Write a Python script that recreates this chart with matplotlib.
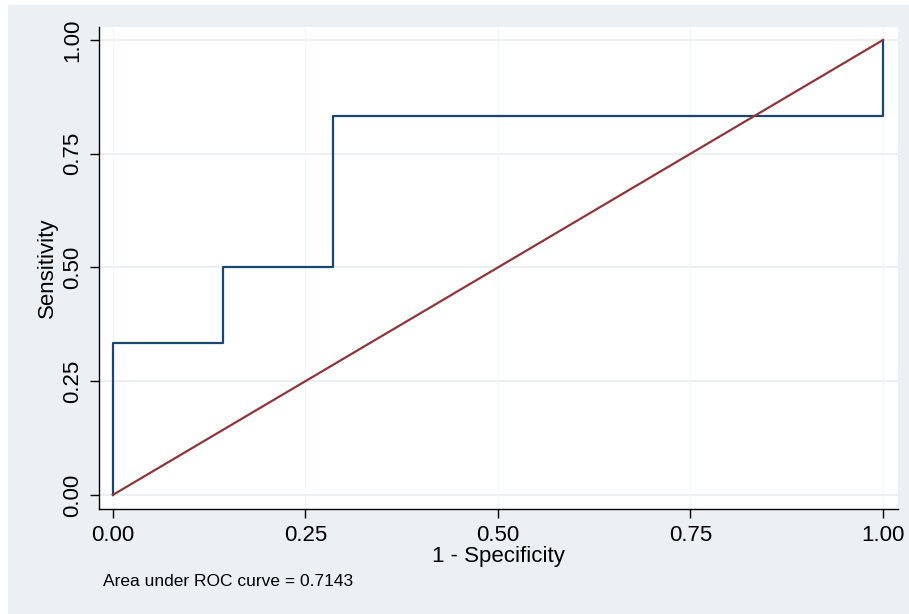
import matplotlib
matplotlib.use("Agg")
import matplotlib.pyplot as plt
from matplotlib.patches import Rectangle

# Data
roc_fpr = [0.0, 0.0, 0.142857, 0.142857, 0.285714, 0.285714, 1.0, 1.0]
roc_tpr = [0.0, 0.333333, 0.333333, 0.5, 0.5, 0.833333, 0.833333, 1.0]
ref_x = [0.0, 1.0]
ref_y = [0.0, 1.0]
ticks = [0.0, 0.25, 0.5, 0.75, 1.0]
tick_labels = ["0.00", "0.25", "0.50", "0.75", "1.00"]
auc_text = "Area under ROC curve = 0.7143"

plt.rcParams['font.family'] = ['Liberation Sans', 'DejaVu Sans']

W, H = 909, 614
fig = plt.figure(figsize=(W / 100, H / 100), dpi=100, facecolor='white')
fig.patches.append(Rectangle((8 / W, 0), 1 - 8 / W, 1 - 5 / H, transform=fig.transFigure,
                             facecolor='#EAF0F3', edgecolor='none', zorder=-10))

left, right, top, bottom = 99, 898, 27, 509
ax = fig.add_axes([left / W, 1 - bottom / H, (right - left) / W, (bottom - top) / H])
ax.set_facecolor('white')

ax.plot(roc_fpr, roc_tpr, color='#1A476F', lw=1.6, zorder=3)
ax.plot(ref_x, ref_y, color='#90353B', lw=1.6, zorder=4)

ax.set_xlim(-0.018, 1.0195)
ax.set_ylim(-0.031, 1.0286)
ax.set_xticks(ticks)
ax.set_xticklabels(tick_labels)
ax.set_yticks(ticks)
ax.set_yticklabels(tick_labels, rotation=90, va='center')
ax.tick_params(axis='both', direction='out', length=6.5, width=1, labelsize=16, colors='black')
ax.tick_params(axis='x', pad=5)
ax.tick_params(axis='y', pad=5)

ax.yaxis.grid(True, color='#EAEFF1', lw=1.3, zorder=0)
ax.xaxis.grid(True, color='#F4F6F7', lw=1.0, zorder=0)
ax.set_axisbelow(True)
for s in ['top', 'right']:
    ax.spines[s].set_visible(False)
for s in ['left', 'bottom']:
    ax.spines[s].set_color('black')
    ax.spines[s].set_linewidth(1)

ax.set_xlabel('1 - Specificity', fontsize=16, labelpad=0)
ax.set_ylabel('Sensitivity', fontsize=16, labelpad=3)

fig.text(103 / W, 1 - 582 / H, auc_text, fontsize=12.5, ha='left', va='center')

fig.savefig('out.png', dpi=100, facecolor=fig.get_facecolor())
